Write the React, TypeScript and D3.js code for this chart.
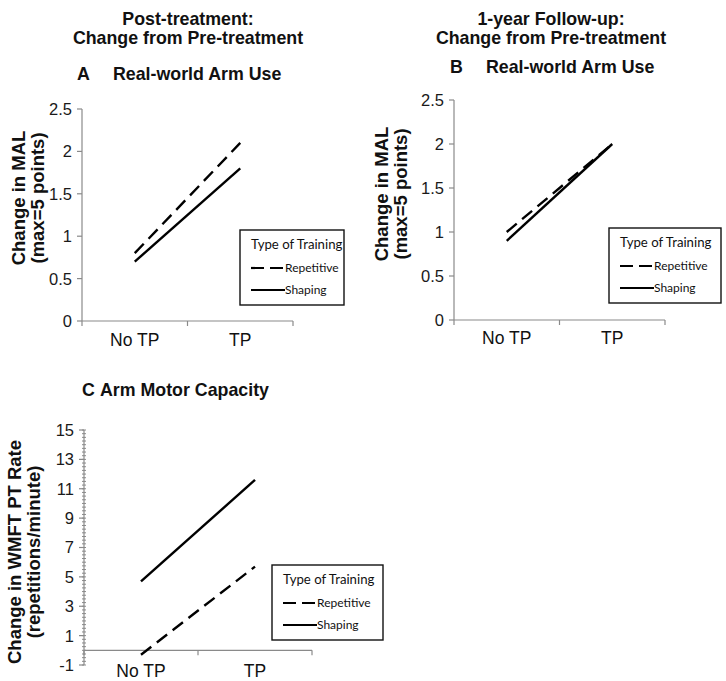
import React, { useEffect, useRef } from 'react';
import * as d3 from 'd3';

// categories on the x axis
const categories = ['No TP', 'TP'];
const seriesNames = ['Repetitive', 'Shaping'];

// A: post-treatment MAL change
const aRepetitive = [0.8, 2.1];
const aShaping = [0.7, 1.8];
// B: 1-year follow-up MAL change
const bRepetitive = [1.0, 2.0];
const bShaping = [0.9, 2.0];
// C: WMFT PT rate change
const cRepetitive = [-0.3, 5.7];
const cShaping = [4.7, 11.6];

const malTicks = [0, 0.5, 1, 1.5, 2, 2.5];
const wmftTicks = [-1, 1, 3, 5, 7, 9, 11, 13, 15];
const wmftMinor = d3.range(-1, 15.001, 0.25);

const ARIAL = '"Liberation Sans", Arial, sans-serif';
const LEGEND_FONT = 'Lato, "Open Sans", sans-serif';
const AXIS_GREY = '#8a8a8a';
const DASH = '13,7';

interface PanelSpec {
  x0: number;
  x1: number;
  yBottom: number;
  yTop: number;
  domain: [number, number];
  ticks: number[];
  minor?: number[];
  repetitive: number[];
  shaping: number[];
  labelY: number;
  yLabel: [string, string];
  yLabelX: [number, number];
  yLabelCenter: number;
  letter: string;
  letterX: number;
  title: string;
  titleX: number;
  titleY: number;
  legend: { x: number; y: number; w: number; h: number };
}

const App: React.FC = () => {
  const ref = useRef<SVGSVGElement>(null);

  useEffect(() => {
    if (!ref.current) return;
    const svg = d3.select(ref.current);
    svg.selectAll('*').remove();

    // column headings
    const headings = [
      { x: 188, lines: ['Post-treatment:', 'Change from Pre-treatment'] },
      { x: 551, lines: ['1-year Follow-up:', 'Change from Pre-treatment'] },
    ];
    headings.forEach((h) => {
      h.lines.forEach((t, i) => {
        svg.append('text')
          .attr('x', h.x)
          .attr('y', 25 + i * 19)
          .attr('text-anchor', 'middle')
          .attr('font-family', ARIAL)
          .attr('font-weight', 'bold')
          .attr('font-size', '17.8px')
          .attr('fill', '#111')
          .text(t);
      });
    });

    const panels: PanelSpec[] = [
      {
        x0: 82, x1: 293, yBottom: 321, yTop: 109, domain: [0, 2.5], ticks: malTicks,
        repetitive: aRepetitive, shaping: aShaping,
        labelY: 346, yLabel: ['Change in MAL', '(max=5 points)'], yLabelX: [25, 44], yLabelCenter: 198,
        letter: 'A', letterX: 77, title: 'Real-world Arm Use', titleX: 113, titleY: 80,
        legend: { x: 240, y: 230, w: 104, h: 75 },
      },
      {
        x0: 454, x1: 665, yBottom: 320, yTop: 100, domain: [0, 2.5], ticks: malTicks,
        repetitive: bRepetitive, shaping: bShaping,
        labelY: 344, yLabel: ['Change in MAL', '(max=5 points)'], yLabelX: [388, 407], yLabelCenter: 194,
        letter: 'B', letterX: 450, title: 'Real-world Arm Use', titleX: 486, titleY: 73,
        legend: { x: 609, y: 228, w: 112, h: 75 },
      },
      {
        x0: 84, x1: 312, yBottom: 665, yTop: 430, domain: [-1, 15], ticks: wmftTicks, minor: wmftMinor,
        repetitive: cRepetitive, shaping: cShaping,
        labelY: 677, yLabel: ['Change in WMFT PT Rate', '(repetitions/minute)'], yLabelX: [21, 40], yLabelCenter: 552,
        letter: 'C', letterX: 82, title: 'Arm Motor Capacity', titleX: 100, titleY: 396,
        legend: { x: 272, y: 565, w: 111, h: 75 },
      },
    ];

    panels.forEach((p) => {
      const g = svg.append('g');
      const x = d3.scaleBand().domain(categories).range([p.x0, p.x1]);
      const y = d3.scaleLinear().domain(p.domain).range([p.yBottom, p.yTop]);
      const zeroY = y(Math.max(0, p.domain[0]));

      // panel title
      g.append('text')
        .attr('x', p.letterX).attr('y', p.titleY)
        .attr('font-family', ARIAL).attr('font-weight', 'bold').attr('font-size', '17.8px').attr('fill', '#111')
        .text(p.letter);
      g.append('text')
        .attr('x', p.titleX).attr('y', p.titleY)
        .attr('font-family', ARIAL).attr('font-weight', 'bold').attr('font-size', '17.8px').attr('fill', '#111')
        .text(p.title);

      // y axis line
      g.append('line')
        .attr('x1', p.x0).attr('x2', p.x0)
        .attr('y1', y(p.domain[0])).attr('y2', y(p.domain[1]))
        .attr('stroke', AXIS_GREY).attr('stroke-width', 1.2);

      if (p.minor) {
        g.selectAll('.minor')
          .data(p.minor)
          .enter()
          .append('line')
          .attr('x1', p.x0 - 2).attr('x2', p.x0 + 2)
          .attr('y1', (d) => y(d)).attr('y2', (d) => y(d))
          .attr('stroke', AXIS_GREY).attr('stroke-width', 1);
      }

      g.selectAll('.major')
        .data(p.ticks)
        .enter()
        .append('line')
        .attr('x1', p.x0 - 5).attr('x2', p.x0)
        .attr('y1', (d) => y(d)).attr('y2', (d) => y(d))
        .attr('stroke', AXIS_GREY).attr('stroke-width', 1.2);

      g.selectAll('.tick-label')
        .data(p.ticks)
        .enter()
        .append('text')
        .attr('x', p.x0 - 10)
        .attr('y', (d) => y(d))
        .attr('dy', '0.36em')
        .attr('text-anchor', 'end')
        .attr('font-family', ARIAL)
        .attr('font-size', '16.5px')
        .attr('fill', '#1a1a1a')
        .text((d) => String(d));

      // x axis at zero
      g.append('line')
        .attr('x1', p.x0).attr('x2', p.x1)
        .attr('y1', zeroY).attr('y2', zeroY)
        .attr('stroke', AXIS_GREY).attr('stroke-width', 1.2);
      const edges = [...categories.map((c) => x(c)!), p.x1];
      g.selectAll('.xtick')
        .data(edges)
        .enter()
        .append('line')
        .attr('x1', (d) => d).attr('x2', (d) => d)
        .attr('y1', zeroY).attr('y2', zeroY + 5)
        .attr('stroke', AXIS_GREY).attr('stroke-width', 1.2);

      g.selectAll('.xlabel')
        .data(categories)
        .enter()
        .append('text')
        .attr('x', (d) => x(d)! + x.bandwidth() / 2)
        .attr('y', p.labelY)
        .attr('text-anchor', 'middle')
        .attr('font-family', ARIAL)
        .attr('font-size', '17.5px')
        .attr('fill', '#111')
        .text((d) => d);

      // y axis title
      p.yLabel.forEach((t, i) => {
        g.append('text')
          .attr('transform', `translate(${p.yLabelX[i]},${p.yLabelCenter}) rotate(-90)`)
          .attr('text-anchor', 'middle')
          .attr('font-family', ARIAL)
          .attr('font-weight', 'bold')
          .attr('font-size', '18.5px')
          .attr('fill', '#111')
          .text(t);
      });

      // lines
      const line = d3.line<number>()
        .x((_, i) => x(categories[i])! + x.bandwidth() / 2)
        .y((d) => y(d));
      g.append('path')
        .attr('d', line(p.repetitive))
        .attr('fill', 'none').attr('stroke', '#000').attr('stroke-width', 2.4)
        .attr('stroke-dasharray', DASH);
      g.append('path')
        .attr('d', line(p.shaping))
        .attr('fill', 'none').attr('stroke', '#000').attr('stroke-width', 2.4);

      // legend
      const L = p.legend;
      const lg = g.append('g').attr('transform', `translate(${L.x},${L.y})`);
      lg.append('rect')
        .attr('width', L.w).attr('height', L.h)
        .attr('fill', '#fff').attr('stroke', '#111').attr('stroke-width', 1.4);
      lg.append('text')
        .attr('x', 11).attr('y', 19)
        .attr('font-family', LEGEND_FONT).attr('font-size', '13.2px').attr('fill', '#111')
        .text('Type of Training');
      seriesNames.forEach((s, i) => {
        const ly = 38 + i * 22;
        lg.append('line')
          .attr('x1', 11).attr('x2', 45)
          .attr('y1', ly).attr('y2', ly)
          .attr('stroke', '#000').attr('stroke-width', 2.2)
          .attr('stroke-dasharray', i === 0 ? '13,6' : null);
        lg.append('text')
          .attr('x', 45).attr('y', ly)
          .attr('dy', '0.35em')
          .attr('font-family', LEGEND_FONT).attr('font-size', '12px').attr('fill', '#111')
          .text(s);
      });
    });
  }, []);

  return (
    <div style={{ position: 'absolute', left: 0, top: 0 }}>
      <svg ref={ref} width={726} height={681} style={{ display: 'block', background: '#fff' }} />
    </div>
  );
};

export default App;
